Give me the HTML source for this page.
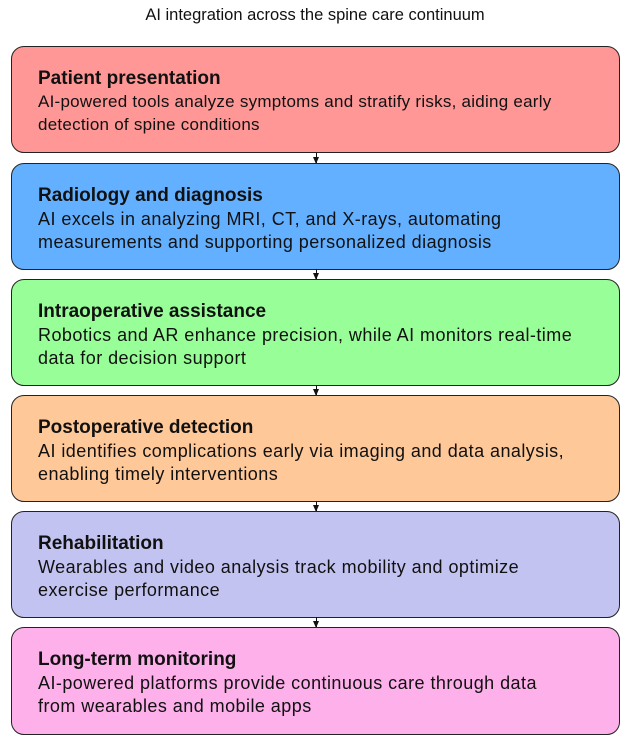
<!DOCTYPE html>
<html><head><meta charset="utf-8"><style>
html,body{margin:0;padding:0;background:#fff;}
body{width:630px;height:739px;position:relative;font-family:"Liberation Sans",Arial,sans-serif;color:#111;}
.t{position:absolute;top:6px;left:0;width:630px;text-align:center;font-size:16.5px;}
.b{position:absolute;left:11px;width:609px;height:107px;border:1px solid #222;border-radius:13px;box-sizing:border-box;padding:20px 0 0 26px;}
.b h{display:block;font-weight:bold;font-size:19px;line-height:24px;}
.b p{margin:0;font-size:18px;letter-spacing:0.45px;line-height:22.5px;white-space:nowrap;}
.a{position:absolute;left:316px;width:1px;background:#111;}
.a:after{content:"";position:absolute;left:-3px;bottom:-1px;border-left:3.5px solid transparent;border-right:3.5px solid transparent;border-top:7px solid #111;}
</style></head><body>
<div class="t">AI integration across the spine care continuum</div>
<div class="b" style="top:46px;background:#fe9796"><h>Patient presentation</h><p style="font-size:17px;letter-spacing:0.25px">AI-powered tools analyze symptoms and stratify risks, aiding early<br>detection of spine conditions</p></div>
<div class="a" style="top:153px;height:10px"></div>
<div class="b" style="top:163px;background:#62b0ff"><h>Radiology and diagnosis</h><p>AI excels in analyzing MRI, CT, and X-rays, automating<br>measurements and supporting personalized diagnosis</p></div>
<div class="a" style="top:269px;height:10px"></div>
<div class="b" style="top:279px;background:#98fe97"><h>Intraoperative assistance</h><p>Robotics and AR enhance precision, while AI monitors real-time<br>data for decision support</p></div>
<div class="a" style="top:385px;height:10px"></div>
<div class="b" style="top:395px;background:#fec898"><h>Postoperative detection</h><p>AI identifies complications early via imaging and data analysis,<br>enabling timely interventions</p></div>
<div class="a" style="top:501px;height:10px"></div>
<div class="b" style="top:511px;background:#c3c3f1"><h>Rehabilitation</h><p>Wearables and video analysis track mobility and optimize<br>exercise performance</p></div>
<div class="a" style="top:617px;height:10px"></div>
<div class="b" style="top:627px;height:108px;background:#fdb0ea"><h>Long-term monitoring</h><p>AI-powered platforms provide continuous care through data<br>from wearables and mobile apps</p></div>
</body></html>
